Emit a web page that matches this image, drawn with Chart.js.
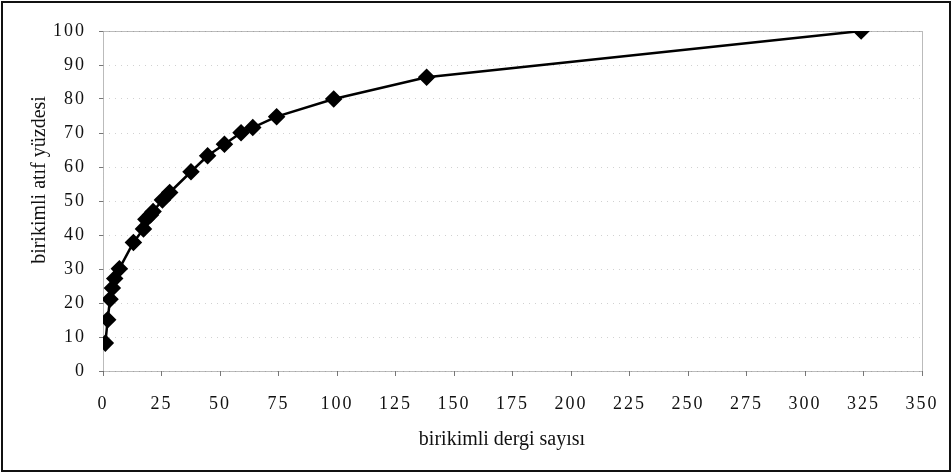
<!DOCTYPE html>
<html>
<head>
<meta charset="utf-8">
<script src="https://cdn.jsdelivr.net/npm/chart.js@4"></script>
<style>
  html, body { margin: 0; padding: 0; background: #fff; }
  #wrap { width: 952px; height: 473px; }
</style>
</head>
<body>
<div id="wrap"><canvas id="curveChart"></canvas></div>
<script>
// cumulative number of journals vs cumulative citation percentage
const journalCounts = [1, 2, 3, 4, 5, 7, 13, 17.3, 18.3, 20.3, 21.4, 25.4, 28.5, 37.6, 44.7, 51.9, 59, 64, 74.2, 98.6, 138.3, 324];
const citationPct = [8.2, 15.1, 21.1, 24.4, 27.2, 30.1, 37.8, 41.8, 44.6, 45.9, 46.9, 50.3, 52.5, 58.6, 63.3, 66.7, 70.1, 71.6, 74.8, 80.0, 86.4, 100];
const xTicks = [0, 25, 50, 75, 100, 125, 150, 175, 200, 225, 250, 275, 300, 325, 350];
const yTicks = [0, 10, 20, 30, 40, 50, 60, 70, 80, 90, 100];
const xTitle = "birikimli dergi sayısı";
const yTitle = "birikimli atıf yüzdesi";

const serif = "'Liberation Serif', 'Times New Roman', serif";

const frame = {
  id: "frame",
  beforeDraw(chart) {
    const c = chart.ctx;
    c.fillStyle = "#fff";
    c.fillRect(0, 0, chart.width, chart.height);
    c.letterSpacing = "2px";
  },
  beforeDatasetsDraw(chart) {
    const c = chart.ctx;
    const a = chart.chartArea;
    c.save();
    c.strokeStyle = "#777";
    c.lineWidth = 1;
    c.setLineDash([1, 1]);
    c.strokeRect(a.left + 0.5, a.top + 0.5, a.right - a.left, a.bottom - a.top);
    c.restore();
  },
  afterDraw(chart) {
    const c = chart.ctx;
    c.save();
    c.strokeStyle = "#111";
    c.lineWidth = 2;
    c.strokeRect(2, 2, chart.width - 4, chart.height - 4);
    // axis titles
    c.fillStyle = "#111";
    c.font = "20px " + serif;
    c.letterSpacing = "0px";
    c.textAlign = "center";
    c.textBaseline = "middle";
    c.fillText(xTitle, 502, 440);
    c.translate(40, 180);
    c.rotate(-Math.PI / 2);
    c.fillText(yTitle, 0, 0);
    c.restore();
  },
};

const ctx = document.getElementById("curveChart").getContext("2d");
const curveChart = new Chart(ctx, {
  type: "scatter",
  data: {
    datasets: [
      {
        data: journalCounts.map((x, i) => ({ x: x, y: citationPct[i] })),
        showLine: true,
        borderColor: "#000",
        borderWidth: 2.5,
        backgroundColor: "#000",
        pointStyle: "rectRot",
        pointRadius: 7,
        pointHoverRadius: 7,
        tension: 0,
      },
    ],
  },
  options: {
    responsive: true,
    maintainAspectRatio: false,
    animation: false,
    layout: { padding: { top: 31, right: 0, left: 0, bottom: 0 } },
    plugins: {
      legend: { display: false },
      tooltip: { enabled: false },
    },
    scales: {
      x: {
        type: "linear",
        min: 0,
        max: 350,
        afterBuildTicks: (s) => { s.ticks = xTicks.map((v) => ({ value: v })); },
        afterFit: (s) => { s.height = 102; s.paddingLeft = 0; s.paddingRight = 30; },
        ticks: { color: "#111", font: { family: serif, size: 18 }, padding: 17, maxRotation: 0 },
        grid: { drawOnChartArea: false, tickLength: 5, color: "#777" },
        border: { display: false },
      },
      y: {
        min: 0,
        max: 100,
        afterBuildTicks: (s) => { s.ticks = yTicks.map((v) => ({ value: v })); },
        afterFit: (s) => { s.width = 103; s.paddingTop = 0; s.paddingBottom = 0; },
        ticks: { color: "#111", font: { family: serif, size: 18 }, padding: 13 },
        grid: {
          color: "rgba(0,0,0,0.18)",
          tickColor: "#777",
          tickLength: 4,
          drawOnChartArea: true,
        },
        border: { display: false, dash: [1, 5] },
      },
    },
  },
  plugins: [frame],
});
</script>
</body>
</html>
